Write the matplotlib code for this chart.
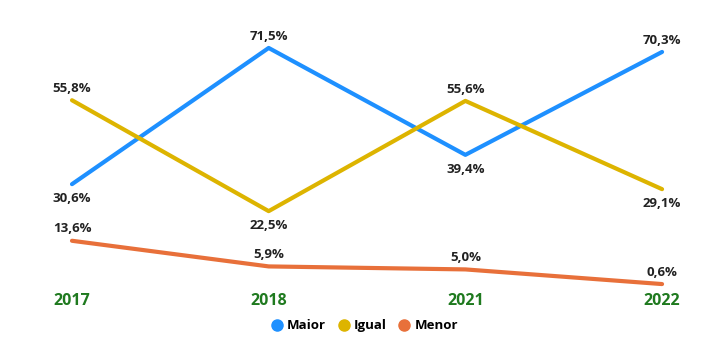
import matplotlib.pyplot as plt
from matplotlib.lines import Line2D

years = ["2017", "2018", "2021", "2022"]
maior = [30.6, 71.5, 39.4, 70.3]
igual = [55.8, 22.5, 55.6, 29.1]
menor = [13.6, 5.9, 5.0, 0.6]

series = [
    ("Maior", maior, "#1E90FF", ["below", "above", "below", "above"]),
    ("Igual", igual, "#DDB400", ["above", "below", "above", "below"]),
    ("Menor", menor, "#E8703A", ["above", "above", "above", "above"]),
]

plt.rcParams["font.family"] = ["Open Sans", "DejaVu Sans"]

fig = plt.figure(figsize=(7.25, 3.58), dpi=100)
ax = fig.add_axes([0, 0, 1, 1])
x = list(range(len(years)))

for name, vals, color, pos in series:
    ax.plot(x, vals, color=color, linewidth=3, solid_capstyle="round", zorder=2)
    for xi, v, p in zip(x, vals, pos):
        dy = 8.5 if p == "above" else -10.5
        ax.annotate(f"{v:.1f}%".replace(".", ","), (xi, v), xytext=(0, dy),
                    textcoords="offset points", ha="center", va="center",
                    fontsize=9.5, fontweight="bold", color="#222222")

for xi, yr in zip(x, years):
    ax.text(xi, -4.6, yr, ha="center", va="center", fontsize=11.5,
            fontweight="bold", color="#1F7A1F")

ax.set_xlim(-0.366, 3.32)
ax.set_ylim(-21.6, 85.9)
ax.axis("off")

handles = [Line2D([], [], marker="o", linestyle="none", color=c, markersize=8)
           for _, _, c, _ in series]
fig.legend(handles, [s[0] for s in series], loc="center", bbox_to_anchor=(0.5, 0.09),
           ncol=3, frameon=False, handletextpad=0.0, columnspacing=0.6,
           handlelength=1.5, prop={"weight": "bold", "size": 9.5})

fig.savefig("out.png", dpi=100)
